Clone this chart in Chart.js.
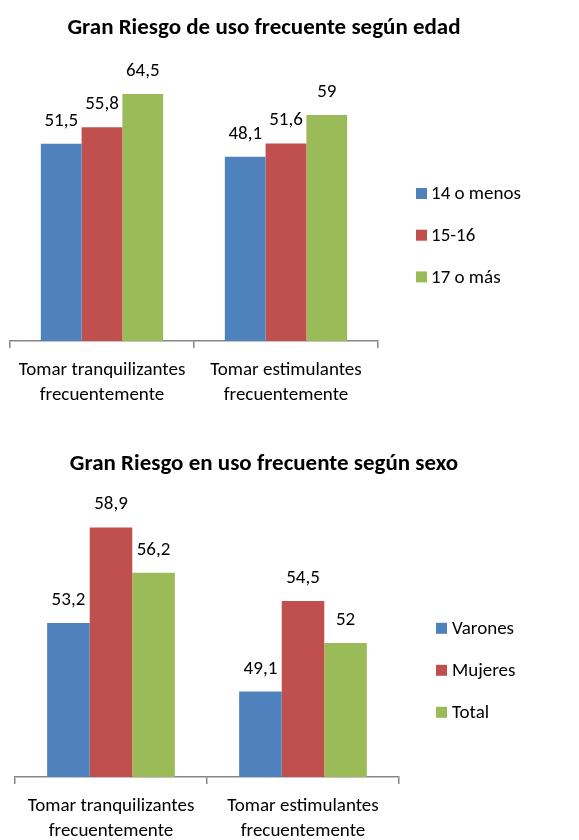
<!DOCTYPE html>
<html>
<head>
<meta charset="utf-8">
<script src="https://cdn.jsdelivr.net/npm/chart.js@4/dist/chart.umd.min.js"></script>
<style>
  html, body { margin: 0; padding: 0; background: #fff; width: 579px; height: 840px; overflow: hidden; }
  canvas { position: absolute; left: 0; }
  #edad { top: 0; }
  #sexo { top: 420px; }
</style>
</head>
<body>
<canvas id="edad" width="579" height="420"></canvas>
<canvas id="sexo" width="579" height="440"></canvas>
<script>
// Categories shared by both charts
const categories = [
  ['Tomar tranquilizantes', 'frecuentemente'],
  ['Tomar estimulantes', 'frecuentemente']
];

// Chart 1: by age group
const edadTitle = 'Gran Riesgo de uso frecuente según edad';
const edadSeries = ['14 o menos', '15-16', '17 o más'];
const edadMenos14 = [51.5, 48.1];
const edad15a16 = [55.8, 51.6];
const edad17mas = [64.5, 59];

// Chart 2: by sex
const sexoTitle = 'Gran Riesgo en uso frecuente según sexo';
const sexoSeries = ['Varones', 'Mujeres', 'Total'];
const sexoVarones = [53.2, 49.1];
const sexoMujeres = [58.9, 54.5];
const sexoTotal = [56.2, 52];

const palette = ['#4F81BD', '#C0504D', '#9BBB59'];
const FONT = 'Carlito, Calibri, Lato, sans-serif';

// Chart heading, centred over the whole figure (plot + legend)
const heading = {
  id: 'heading',
  afterDraw(chart, args, opts) {
    const ctx = chart.ctx;
    ctx.save();
    ctx.font = 'bold 23px ' + FONT;
    ctx.fillStyle = '#000';
    ctx.textAlign = 'center';
    ctx.textBaseline = 'alphabetic';
    ctx.fillText(opts.text, opts.x, opts.y);
    ctx.restore();
  }
};

// Value labels above each bar, decimal comma
const valueLabels = {
  id: 'valueLabels',
  afterDatasetsDraw(chart) {
    const ctx = chart.ctx;
    ctx.save();
    ctx.font = '19px ' + FONT;
    ctx.fillStyle = '#000';
    ctx.textAlign = 'center';
    ctx.textBaseline = 'alphabetic';
    chart.data.datasets.forEach((ds, i) => {
      chart.getDatasetMeta(i).data.forEach((bar, j) => {
        ctx.fillText(String(ds.data[j]).replace('.', ','), bar.x, bar.y - 18);
      });
    });
    ctx.restore();
  }
};

// Legend drawn as a vertical list to the right of the plot
const sideLegend = {
  id: 'sideLegend',
  afterDraw(chart, args, opts) {
    const ctx = chart.ctx;
    ctx.save();
    ctx.font = '19px ' + FONT;
    ctx.textAlign = 'left';
    ctx.textBaseline = 'middle';
    chart.data.datasets.forEach((ds, i) => {
      const cy = opts.y + i * opts.step;
      ctx.fillStyle = ds.backgroundColor;
      ctx.fillRect(opts.x, cy - 5.5, 11, 11);
      ctx.fillStyle = '#000';
      ctx.fillText(ds.label, opts.x + opts.gap, cy + 1);
    });
    ctx.restore();
  }
};

function makeChart(id, title, seriesNames, seriesData, yMin, yMax, padding, headingOpts, legendOpts) {
  return new Chart(document.getElementById(id), {
    type: 'bar',
    data: {
      labels: categories,
      datasets: seriesNames.map((name, i) => ({
        label: name,
        data: seriesData[i],
        backgroundColor: palette[i],
        borderWidth: 0,
        categoryPercentage: 0.665,
        barPercentage: 1
      }))
    },
    options: {
      responsive: false,
      animation: false,
      layout: { padding: padding },
      plugins: {
        legend: { display: false },
        tooltip: { enabled: false },
        title: { display: false },
        heading: Object.assign({ text: title }, headingOpts),
        sideLegend: legendOpts
      },
      scales: {
        x: {
          grid: {
            display: true,
            drawOnChartArea: false,
            drawTicks: true,
            tickLength: 7,
            color: '#868686',
            lineWidth: 1.5,
            offset: true
          },
          border: { display: true, color: '#868686', width: 1.5 },
          ticks: {
            color: '#000',
            font: { family: FONT, size: 19, lineHeight: 1.316 },
            padding: 10,
            maxRotation: 0,
            autoSkip: false
          }
        },
        y: {
          display: false,
          min: yMin,
          max: yMax
        }
      }
    },
    plugins: [heading, valueLabels, sideLegend]
  });
}

makeChart('edad', edadTitle, edadSeries, [edadMenos14, edad15a16, edad17mas], 0, 70,
  { top: 73, left: 10, right: 201, bottom: 2 },
  { x: 264, y: 33.5 },
  { x: 416, y: 193.5, step: 41.7, gap: 15 });

makeChart('sexo', sexoTitle, sexoSeries, [sexoVarones, sexoMujeres, sexoTotal], 44, 60,
  { top: 89, left: 15, right: 180, bottom: 6 },
  { x: 264, y: 50 },
  { x: 436, y: 208.3, step: 42, gap: 16 });
</script>
</body>
</html>
